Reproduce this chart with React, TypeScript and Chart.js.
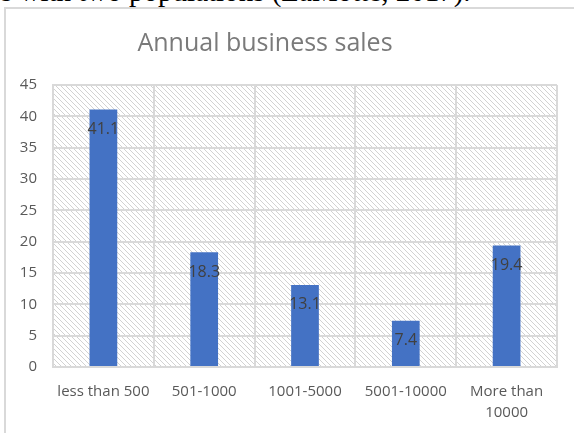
import React, { useEffect, useRef } from "react";
import { Chart, registerables } from "chart.js";

Chart.register(...registerables);

const categories: (string | string[])[] = [
  "less than 500",
  "501-1000",
  "1001-5000",
  "5001-10000",
  ["More than", "10000"],
];
const values: number[] = [41.1, 18.3, 13.1, 7.4, 19.4];
const titleText = "Annual business sales";
const pageText = "s with two populations (LaMotte, 2017).";
const yMin = 0;
const yMax = 45;
const yStep = 5;

const FONT = "'Open Sans', 'DejaVu Sans', sans-serif";

function makePattern(): CanvasPattern | string {
  const c = document.createElement("canvas");
  const n = 5;
  c.width = n;
  c.height = n;
  const ctx = c.getContext("2d");
  if (!ctx) return "#fff";
  ctx.fillStyle = "#ffffff";
  ctx.fillRect(0, 0, n, n);
  ctx.fillStyle = "#d2d2d2";
  for (let i = 0; i < n; i++) ctx.fillRect(i, i, 1, 1);
  const p = ctx.createPattern(c, "repeat");
  return p || "#fff";
}

export default function App() {
  const ref = useRef<HTMLCanvasElement | null>(null);

  useEffect(() => {
    const canvas = ref.current;
    if (!canvas) return;
    const pattern = makePattern();

    const bgPlugin = {
      id: "hatchBg",
      beforeDraw(chart: any) {
        const { ctx, chartArea } = chart;
        ctx.save();
        ctx.fillStyle = pattern;
        ctx.fillRect(
          chartArea.left,
          chartArea.top,
          chartArea.right - chartArea.left,
          chartArea.bottom - chartArea.top
        );
        ctx.restore();
      },
    };

    const titlePlugin = {
      id: "customTitle",
      afterDraw(chart: any) {
        const { ctx } = chart;
        ctx.save();
        ctx.font = `25px ${FONT}`;
        ctx.fillStyle = "#7a7a7a";
        ctx.textAlign = "center";
        ctx.textBaseline = "alphabetic";
        ctx.fillText(titleText, 265, 51);
        ctx.restore();
      },
    };

    const labelPlugin = {
      id: "barLabels",
      afterDatasetsDraw(chart: any) {
        const { ctx } = chart;
        const meta = chart.getDatasetMeta(0);
        ctx.save();
        ctx.font = `16px ${FONT}`;
        ctx.fillStyle = "#404040";
        ctx.textAlign = "center";
        ctx.textBaseline = "middle";
        meta.data.forEach((bar: any, i: number) => {
          ctx.fillText(String(values[i]), bar.x, bar.y + 20);
        });
        ctx.restore();
      },
    };

    const chart = new Chart(canvas, {
      type: "bar",
      data: {
        labels: categories as any,
        datasets: [
          {
            data: values,
            backgroundColor: "#4472C4",
            borderWidth: 0,
            barPercentage: 0.275,
            categoryPercentage: 1,
          },
        ],
      },
      options: {
        animation: false,
        responsive: false,
        maintainAspectRatio: false,
        layout: { padding: { top: 85, left: 0, right: 17, bottom: 0 } },
        plugins: {
          legend: { display: false },
          title: { display: false },
          tooltip: { enabled: false },
        },
        scales: {
          x: {
            grid: {
              color: "#d9d9d9",
              lineWidth: 2,
              drawTicks: false,
              offset: true,
            },
            border: { color: "#d9d9d9", width: 2 },
            ticks: {
              color: "#595959",
              font: { family: FONT, size: 15, lineHeight: 1.4 },
              padding: 14,
              maxRotation: 0,
              autoSkip: false,
            },
            afterFit(scale: any) {
              scale.height = 66;
            },
          },
          y: {
            min: yMin,
            max: yMax,
            grid: { color: "#d9d9d9", lineWidth: 2, drawTicks: false },
            border: { color: "#d9d9d9", width: 2 },
            ticks: {
              stepSize: yStep,
              color: "#595959",
              font: { family: FONT, size: 15 },
              padding: 16,
            },
            afterFit(scale: any) {
              scale.width = 53;
            },
          },
        },
      },
      plugins: [bgPlugin, titlePlugin, labelPlugin],
    });

    return () => chart.destroy();
  }, []);

  return (
    <div
      style={{
        position: "fixed",
        left: 0,
        top: 0,
        width: 574,
        height: 433,
        overflow: "hidden",
        background: "#ffffff",
      }}
    >
      <div
        style={{
          position: "absolute",
          left: 1,
          top: -23,
          fontFamily: "'Liberation Serif', 'Times New Roman', serif",
          fontSize: 29,
          lineHeight: "29px",
          whiteSpace: "nowrap",
          color: "#000",
        }}
      >
        {pageText}
      </div>
      <div
        style={{
          position: "absolute",
          left: 4,
          top: 7,
          width: 700,
          height: 600,
          border: "2px solid #d9d9d9",
          boxSizing: "border-box",
        }}
      />
      <canvas
        ref={ref}
        width={574}
        height={433}
        style={{ position: "absolute", left: 0, top: 0, width: 574, height: 433 }}
      />
    </div>
  );
}
